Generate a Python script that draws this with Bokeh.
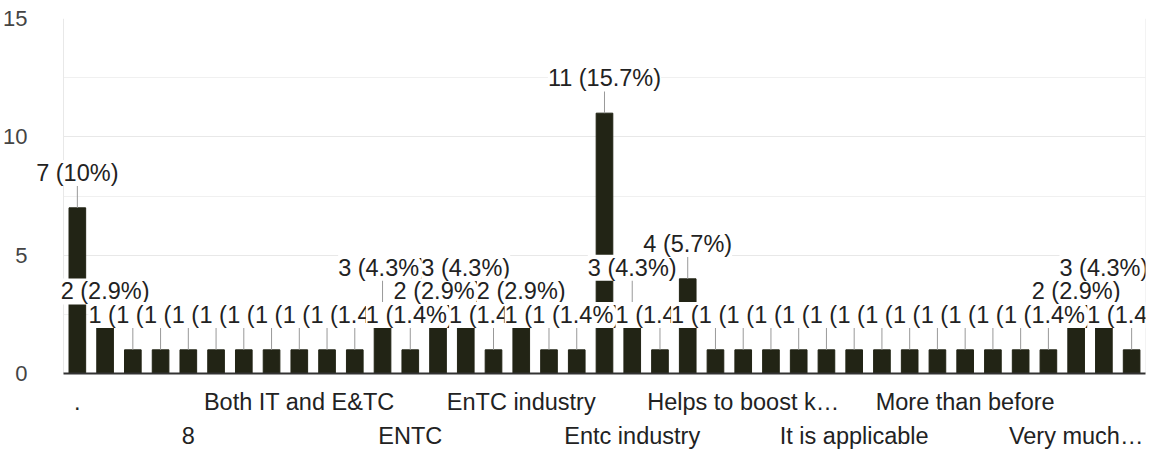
from bokeh.plotting import figure
from bokeh.models import ColumnDataSource, Range1d, FixedTicker, LinearAxis, LabelSet, Span
from bokeh.core.properties import value
from bokeh.embed import file_html
from bokeh.resources import INLINE

# ---- data ----
counts = [7, 2, 1, 1, 1, 1, 1, 1, 1, 1, 1, 3, 1, 2, 3, 1, 2, 1, 1, 11,
          3, 1, 4, 1, 1, 1, 1, 1, 1, 1, 1, 1, 1, 1, 1, 1, 2, 3, 1]
row1_labels = [".", "Both IT and E&TC", "EnTC industry", "Helps to boost k…", "More than before"]
row2_labels = ["8", "ENTC", "Entc industry", "It is applicable", "Very much…"]
y_ticks = [0, 5, 10, 15]
y_minor = [2.5, 7.5, 12.5]

total = sum(counts)


def fmt(v):
    pct = f"{v * 100 / total:.1f}".rstrip("0").rstrip(".")
    return f"{v} ({pct}%)"


n = len(counts)
idx = list(range(n))
src = ColumnDataSource(dict(
    x=idx,
    top=counts,
    label=[fmt(v) for v in counts],
    stem=[v + 0.96 for v in counts],
    ly=[v + 1.13 for v in counts],
))

FONT = "Liberation Sans"
BAR = "#222415"
GRID = "#e8e8e8"

# layout: plot area 62..1145 px; frame extended to the left so that the
# first data label (which overhangs the plot area) is not clipped
FRAME_L, AREA_L, AREA_R = 32, 62, 1145
slot = (AREA_R - AREA_L) / n
x_start = -0.5 - (AREA_L - FRAME_L) / slot

p = figure(width=1154, height=451, output_backend="svg", toolbar_location=None,
           x_range=Range1d(x_start, n - 0.5), y_range=Range1d(0, 15),
           min_border_left=FRAME_L, min_border_right=1154 - AREA_R, min_border_top=18,
           min_border_bottom=78)

p.vbar(x="x", top="top", width=0.6, source=src, color=BAR)
p.segment(x0="x", y0="top", x1="x", y1="stem", source=src, line_color="#999999", line_width=1)

labels = LabelSet(x="x", y="ly", text="label", source=src, text_align="center",
                  text_baseline="alphabetic", text_font=value(FONT), text_font_size="23.5px",
                  text_color="#222222", background_fill_color="white")
p.add_layout(labels)

# plot-area border (left and right)
p.outline_line_color = None
p.add_layout(Span(location=-0.5, dimension="height", line_color=GRID, line_width=1, level="underlay"))
p.add_layout(Span(location=n - 0.5, dimension="height", line_color=GRID, line_width=1, level="underlay"))

# y axis
yax = p.yaxis[0]
yax.ticker = FixedTicker(ticks=y_ticks, minor_ticks=y_minor)
yax.axis_line_color = None
yax.major_tick_line_color = None
yax.minor_tick_line_color = None
yax.major_label_standoff = 0
yax.major_label_text_font = FONT
yax.major_label_text_font_size = "22px"
yax.major_label_text_color = "#444444"

p.ygrid.ticker = FixedTicker(ticks=y_ticks, minor_ticks=y_minor)
p.ygrid.grid_line_color = GRID
p.ygrid.minor_grid_line_color = "#f0f0f0"
p.ygrid.cross_bounds = (-0.5, n - 0.5)
p.xgrid.grid_line_color = None

# x axis, two rows of labels
ticks1 = idx[0::8]
ticks2 = idx[4::8]
xa = p.xaxis[0]
xa.ticker = FixedTicker(ticks=ticks1)
xa.bounds = (-0.5, n - 0.5)
xa.major_label_overrides = {t: s for t, s in zip(ticks1, row1_labels)}
xa.axis_line_color = "#333333"
xa.axis_line_width = 2
xa.major_tick_line_color = None
xa.minor_tick_line_color = None
xa.major_label_standoff = 9
xa.major_label_text_font = FONT
xa.major_label_text_font_size = "23.5px"
xa.major_label_text_color = "#222222"

xa2 = LinearAxis(ticker=FixedTicker(ticks=ticks2),
                 major_label_overrides={t: s for t, s in zip(ticks2, row2_labels)})
xa2.axis_line_color = None
xa2.major_tick_line_color = None
xa2.minor_tick_line_color = None
xa2.major_label_standoff = -1
xa2.major_label_text_font = FONT
xa2.major_label_text_font_size = "23.5px"
xa2.major_label_text_color = "#222222"
p.add_layout(xa2, "below")

open("out.html", "w").write(file_html(p, INLINE))
